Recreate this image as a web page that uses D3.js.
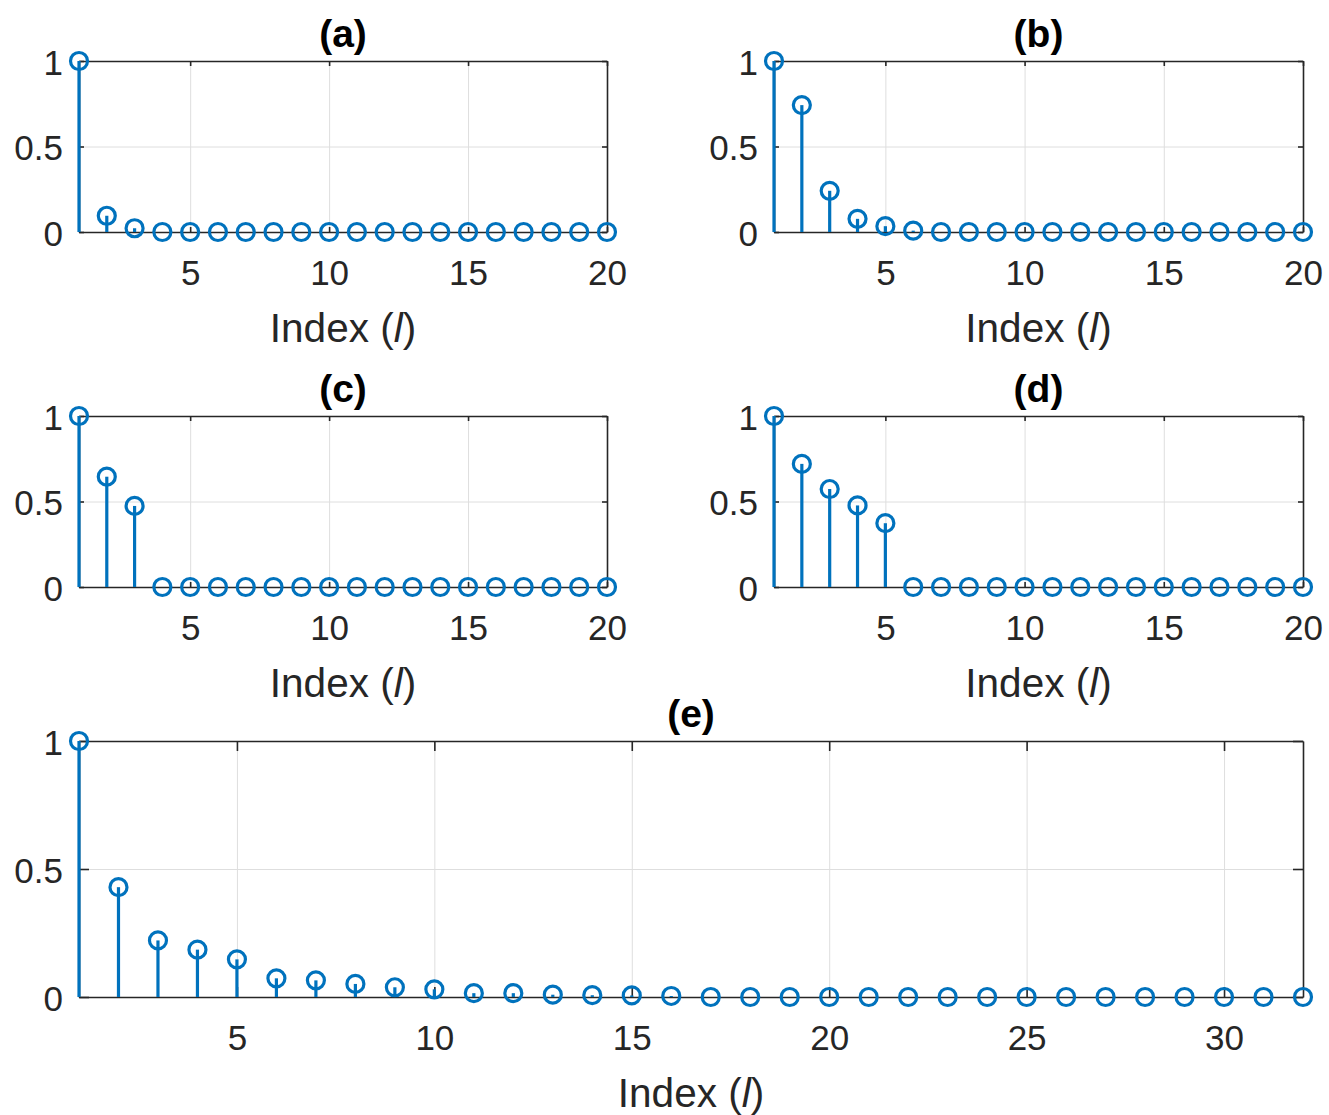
<!DOCTYPE html>
<html>
<head>
<meta charset="utf-8">
<script src="https://cdn.jsdelivr.net/npm/d3@7"></script>
<style>
  body { margin: 0; background: #fff; }
  svg { display: block; font-family: "Liberation Sans", Arial, sans-serif; }
</style>
</head>
<body>
<svg id="fig"></svg>
<script>
// data
const index20 = [1, 2, 3, 4, 5, 6, 7, 8, 9, 10, 11, 12, 13, 14, 15, 16, 17, 18, 19, 20]
const index32 = [1, 2, 3, 4, 5, 6, 7, 8, 9, 10, 11, 12, 13, 14, 15, 16,
  17, 18, 19, 20, 21, 22, 23, 24, 25, 26, 27, 28, 29, 30, 31, 32]

const valuesA = [1, 0.095, 0.022, 0, 0, 0, 0, 0, 0, 0, 0, 0, 0, 0, 0, 0, 0, 0, 0, 0]
const valuesB = [1, 0.742, 0.241, 0.077, 0.034, 0.008, 0, 0, 0, 0, 0, 0, 0, 0, 0, 0, 0, 0, 0, 0]
const valuesC = [1, 0.645, 0.474, 0, 0, 0, 0, 0, 0, 0, 0, 0, 0, 0, 0, 0, 0, 0, 0, 0]
const valuesD = [1, 0.72, 0.573, 0.477, 0.373, 0, 0, 0, 0, 0, 0, 0, 0, 0, 0, 0, 0, 0, 0, 0]
const valuesE = [1, 0.429, 0.221, 0.185, 0.147, 0.073, 0.065, 0.051, 0.038, 0.030,
  0.015, 0.015, 0.009, 0.007, 0.006, 0.004, 0, 0, 0, 0, 0, 0, 0, 0, 0, 0, 0, 0, 0, 0, 0, 0]

const xTicks20 = [5, 10, 15, 20]
const xTicks32 = [5, 10, 15, 20, 25, 30]
const yTicks = [0, 0.5, 1]
const titles = ["(a)", "(b)", "(c)", "(d)", "(e)"]

// styles
const stemColor = "#0072BD"
const axisColor = "#262626"
const gridColor = "#dedede"
const tickFont = 35
const labelFont = 40.5

const svg = d3.select("#fig")
  .attr("width", 1329)
  .attr("height", 1115)

// panel boxes in pixels
const panels = [
  { title: titles[0], idx: index20, vals: valuesA, xt: xTicks20, box: { left: 79, right: 607, top: 61, bottom: 232 }, tick: 5 },
  { title: titles[1], idx: index20, vals: valuesB, xt: xTicks20, box: { left: 774, right: 1303, top: 61, bottom: 232 }, tick: 5 },
  { title: titles[2], idx: index20, vals: valuesC, xt: xTicks20, box: { left: 79, right: 607, top: 416, bottom: 587 }, tick: 5 },
  { title: titles[3], idx: index20, vals: valuesD, xt: xTicks20, box: { left: 774, right: 1303, top: 416, bottom: 587 }, tick: 5 },
  { title: titles[4], idx: index32, vals: valuesE, xt: xTicks32, box: { left: 79, right: 1303, top: 741, bottom: 997 }, tick: 10 }
]

function drawPanel(p) {
  const b = p.box
  const w = b.right - b.left
  const h = b.bottom - b.top
  const g = svg.append("g").attr("transform", `translate(${b.left}, ${b.top})`)

  const x = d3.scaleLinear().domain([1, p.idx[p.idx.length - 1]]).range([0, w])
  const y = d3.scaleLinear().domain([0, 1]).range([h, 0])

  // grid
  const gx = g.append("g")
    .attr("transform", `translate(0, ${h})`)
    .call(d3.axisBottom(x).tickValues(p.xt).tickSize(-h).tickFormat(""))
  const gy = g.append("g")
    .call(d3.axisLeft(y).tickValues(yTicks).tickSize(-w).tickFormat(""))
  for (const gg of [gx, gy]) {
    gg.select(".domain").remove()
    gg.selectAll("line").attr("stroke", gridColor).attr("stroke-width", 1)
  }

  // box + ticks
  const fmt = d => String(d)
  const axes = [
    g.append("g").attr("transform", `translate(0, ${h})`)
      .call(d3.axisBottom(x).tickValues(p.xt).tickSizeInner(-p.tick).tickSizeOuter(0).tickPadding(28).tickFormat(fmt)),
    g.append("g")
      .call(d3.axisTop(x).tickValues(p.xt).tickSizeInner(-p.tick).tickSizeOuter(0).tickFormat("")),
    g.append("g")
      .call(d3.axisLeft(y).tickValues(yTicks).tickSizeInner(-p.tick).tickSizeOuter(0).tickPadding(16).tickFormat(fmt)),
    g.append("g").attr("transform", `translate(${w}, 0)`)
      .call(d3.axisRight(y).tickValues(yTicks).tickSizeInner(-p.tick).tickSizeOuter(0).tickFormat(""))
  ]
  axes.forEach(a => {
    a.select(".domain").attr("stroke", axisColor).attr("stroke-width", 1.6)
    a.selectAll(".tick line").attr("stroke", axisColor).attr("stroke-width", 1.6)
    a.selectAll("text")
      .attr("fill", axisColor)
      .attr("font-size", tickFont)
      .attr("font-family", "Liberation Sans, Arial, sans-serif")
  })
  axes[2].selectAll("text").attr("dy", "0.38em")

  // stems
  const pts = p.idx.map((d, i) => ({ x: d, v: p.vals[i] }))
  g.append("g").selectAll("line")
    .data(pts)
    .join("line")
    .attr("x1", d => x(d.x))
    .attr("x2", d => x(d.x))
    .attr("y1", y(0))
    .attr("y2", d => y(d.v))
    .attr("stroke", stemColor)
    .attr("stroke-width", 3.2)

  g.append("g").selectAll("circle")
    .data(pts)
    .join("circle")
    .attr("cx", d => x(d.x))
    .attr("cy", d => y(d.v))
    .attr("r", 8.5)
    .attr("fill", "none")
    .attr("stroke", stemColor)
    .attr("stroke-width", 3.2)

  // title
  g.append("text")
    .attr("x", w / 2)
    .attr("y", -14)
    .attr("text-anchor", "middle")
    .attr("font-size", 39)
    .attr("font-weight", "bold")
    .attr("fill", "#000")
    .text(p.title)

  // x label
  const lab = g.append("text")
    .attr("x", w / 2)
    .attr("y", h + 110)
    .attr("text-anchor", "middle")
    .attr("font-size", labelFont)
    .attr("fill", axisColor)
  lab.append("tspan").text("Index (")
  lab.append("tspan").attr("font-style", "italic").text("l")
  lab.append("tspan").text(")")
}

panels.forEach(drawPanel)
</script>
</body>
</html>
